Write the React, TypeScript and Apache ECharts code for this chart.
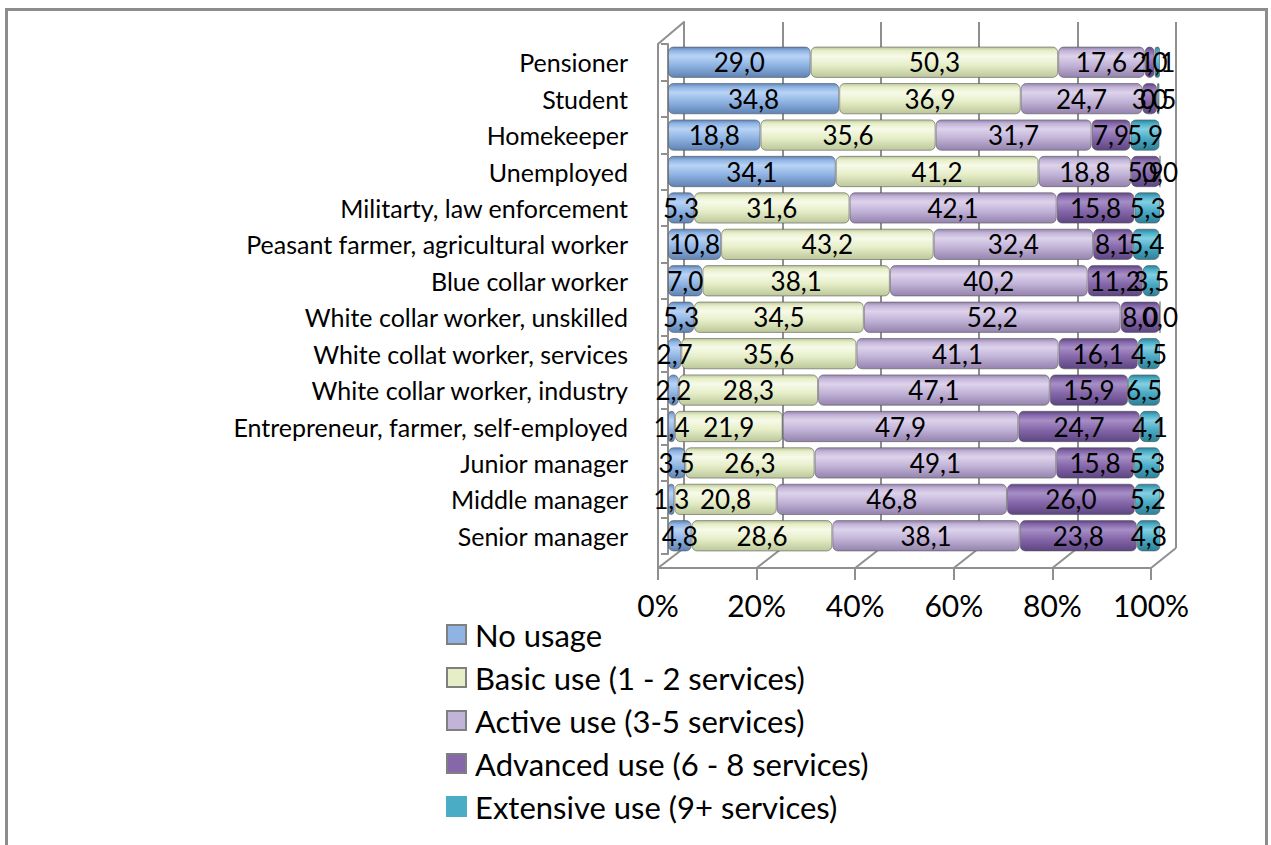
import React, { useEffect, useRef } from "react";
import * as echarts from "echarts";

const categories = [
  "Pensioner",
  "Student",
  "Homekeeper",
  "Unemployed",
  "Militarty, law enforcement",
  "Peasant farmer, agricultural worker",
  "Blue collar worker",
  "White collar worker, unskilled",
  "White collat worker, services",
  "White collar worker, industry",
  "Entrepreneur, farmer, self-employed",
  "Junior manager",
  "Middle manager",
  "Senior manager",
];

const noUsage = [29.0, 34.8, 18.8, 34.1, 5.3, 10.8, 7.0, 5.3, 2.7, 2.2, 1.4, 3.5, 1.3, 4.8];
const basicUse = [50.3, 36.9, 35.6, 41.2, 31.6, 43.2, 38.1, 34.5, 35.6, 28.3, 21.9, 26.3, 20.8, 28.6];
const activeUse = [17.6, 24.7, 31.7, 18.8, 42.1, 32.4, 40.2, 52.2, 41.1, 47.1, 47.9, 49.1, 46.8, 38.1];
const advancedUse = [2.0, 3.0, 7.9, 5.9, 15.8, 8.1, 11.2, 8.0, 16.1, 15.9, 24.7, 15.8, 26.0, 23.8];
const extensiveUse = [1.1, 0.5, 5.9, 0.0, 5.3, 5.4, 3.5, 0.0, 4.5, 6.5, 4.1, 5.3, 5.2, 4.8];

const seriesNames = [
  "No usage",
  "Basic use (1 - 2 services)",
  "Active use (3-5 services)",
  "Advanced use (6 - 8 services)",
  "Extensive use (9+ services)",
];

const xTicks = [0, 20, 40, 60, 80, 100];

// [base, highlight, dark]
const palette = [
  ["#8fb4e3", "#b9d3f5", "#5f83b4"],
  ["#e6eec8", "#f7fae9", "#bcc79a"],
  ["#c2b3d8", "#ddd3eb", "#9483ad"],
  ["#8668aa", "#a68fc6", "#5d4582"],
  ["#4bacc6", "#84cfe2", "#2c8198"],
];

const FONT = 'Lato, "Open Sans", sans-serif';

// layout (decoration geometry only)
const FRONT = { left: 658, top: 44, width: 493, height: 524 };
const BACK = { left: 684, top: 22, width: 492, height: 526 };
const BARS = { left: 668, top: 44, width: 492, height: 510 };

export default function App() {
  const ref = useRef<HTMLDivElement>(null);

  useEffect(() => {
    if (!ref.current) return;
    const chart = echarts.init(ref.current, undefined, { renderer: "svg" });
    const values = [noUsage, basicUse, activeUse, advancedUse, extensiveUse];

    const grad = (c: string[]) =>
      new echarts.graphic.LinearGradient(0, 0, 0, 1, [
        { offset: 0, color: c[2] },
        { offset: 0.12, color: c[0] },
        { offset: 0.3, color: c[1] },
        { offset: 0.6, color: c[0] },
        { offset: 1, color: c[2] },
      ]);

    const series = values.map((d, i) => ({
      name: seriesNames[i],
      type: "bar",
      stack: "total",
      xAxisIndex: 1,
      yAxisIndex: 1,
      data: d,
      barCategoryGap: "14%",
      z: 3,
      itemStyle: {
        color: grad(palette[i]),
        borderColor: "rgba(80,80,80,0.55)",
        borderWidth: 1,
        borderRadius: 5,
      },
      label: {
        show: true,
        position: "inside",
        formatter: (p: any) => Number(p.value).toFixed(1).replace(".", ","),
        fontFamily: FONT,
        fontSize: 26,
        color: "#000",
      },
    }));

    // decoration lines for the 3D box
    const gray = "#8f8f8f";
    const lines: any[] = [];
    const fb = FRONT.top + FRONT.height;
    const bb = BACK.top + BACK.height;
    xTicks.forEach((t) => {
      const fx = FRONT.left + (FRONT.width * t) / 100;
      const bx = BACK.left + (BACK.width * t) / 100;
      lines.push({
        type: "line",
        z: 0,
        silent: true,
        shape: { x1: fx, y1: fb, x2: bx, y2: bb },
        style: { stroke: gray, lineWidth: 2 },
      });
    });
    lines.push({
      type: "line",
      z: 0,
      silent: true,
      shape: { x1: FRONT.left, y1: FRONT.top, x2: BACK.left, y2: BACK.top },
      style: { stroke: gray, lineWidth: 2 },
    });
    lines.push({
      type: "rect",
      z: 10,
      silent: true,
      shape: { x: 6.5, y: 9.5, width: 1260, height: 900 },
      style: { fill: "none", stroke: "#8c8c8c", lineWidth: 3 },
    });

    chart.setOption({
      animation: false,
      backgroundColor: "#fff",
      textStyle: { fontFamily: FONT },
      grid: [
        { left: BACK.left, top: BACK.top, width: BACK.width, height: BACK.height },
        { left: BARS.left, top: BARS.top, width: BARS.width, height: BARS.height },
        { left: FRONT.left, top: FRONT.top, width: FRONT.width, height: FRONT.height },
      ],
      xAxis: [
        {
          gridIndex: 0,
          type: "value",
          min: 0,
          max: 100,
          interval: 20,
          axisLine: { show: false },
          axisTick: { show: false },
          axisLabel: { show: false },
          splitLine: { show: true, lineStyle: { color: gray, width: 2 } },
        },
        {
          gridIndex: 1,
          type: "value",
          min: 0,
          max: 100,
          interval: 20,
          show: false,
        },
        {
          gridIndex: 2,
          type: "value",
          min: 0,
          max: 100,
          interval: 20,
          axisLine: { show: true, lineStyle: { color: gray, width: 2 } },
          axisTick: { show: true, length: 12, lineStyle: { color: gray, width: 2 } },
          splitLine: { show: false },
          axisLabel: {
            formatter: "{value}%",
            fontFamily: FONT,
            fontSize: 30,
            color: "#000",
            margin: 22,
          },
        },
      ],
      yAxis: [
        {
          gridIndex: 0,
          type: "value",
          min: 0,
          max: 1,
          axisLine: { show: true, lineStyle: { color: gray, width: 2 } },
          axisTick: { show: false },
          axisLabel: { show: false },
          splitLine: { show: false },
        },
        {
          gridIndex: 1,
          type: "category",
          data: categories,
          inverse: true,
          offset: BARS.left - FRONT.left,
          axisLine: { show: true, lineStyle: { color: gray, width: 2 } },
          axisTick: { show: true, length: 7, lineStyle: { color: gray, width: 2 } },
          axisLabel: {
            fontFamily: FONT,
            fontSize: 25,
            color: "#000",
            margin: 30,
          },
        },
        {
          gridIndex: 2,
          type: "value",
          min: 0,
          max: 1,
          axisLine: { show: true, lineStyle: { color: gray, width: 2 } },
          axisTick: { show: false },
          axisLabel: { show: false },
          splitLine: { show: false },
        },
      ],
      legend: {
        orient: "vertical",
        left: 441,
        top: 614,
        itemWidth: 19,
        itemHeight: 19,
        itemGap: 12,
        icon: "rect",
        textStyle: { fontFamily: FONT, fontSize: 31, color: "#000", padding: [0, 0, 0, 4] },
        data: seriesNames.map((n, i) => ({
          name: n,
          itemStyle: {
            color: palette[i][0],
            borderColor: i === 4 ? palette[i][0] : "#7f7f7f",
            borderWidth: 2,
          },
        })),
      },
      graphic: lines,
      series,
    });

    return () => chart.dispose();
  }, []);

  return (
    <div
      ref={ref}
      style={{ position: "absolute", left: 0, top: 0, width: 1271, height: 845, background: "#fff" }}
    />
  );
}
